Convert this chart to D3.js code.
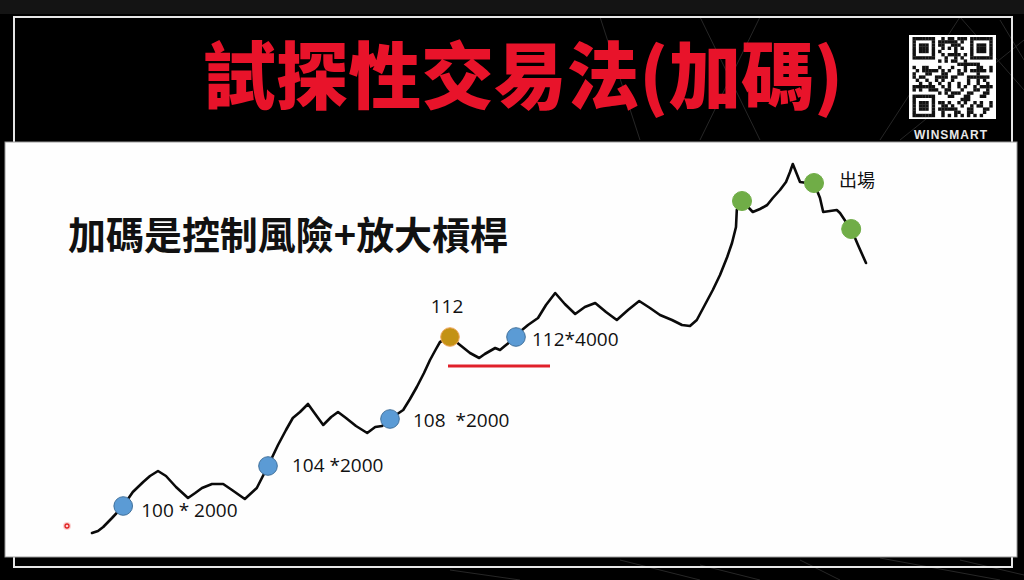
<!DOCTYPE html>
<html><head><meta charset="utf-8">
<script src="https://cdn.jsdelivr.net/npm/d3@7/dist/d3.min.js"></script>
<style>body{margin:0;background:#000;} svg{display:block}</style>
</head><body><svg id="c" width="1024" height="580"></svg>
<script>
// ---- data ----
const titleText = "試探性交易法(加碼)";
const subtitleText = "加碼是控制風險+放大槓桿";
const brandText = "WINSMART";

const day = [1.5,2.25,2.9,4,5.4,6.6,7.9,8.75,9.75,10.75,
  12,13.5,14.4,15.25,16.5,17.9,19,20.6,22.1,23.5,
  24.75,25.75,26.6,27.5,28.5,29.4,30.4,31.4,32.25,33.25,
  34.5,35.9,36.9,37.75,38.75,40.4,41.25,42.1,43,43.75,
  44.5,45,46.25,47.5,48.75,49.9,50.6,51.25,51.9,52.5,
  53.1,54.5,55.25,56,57.25,58.25,59.4,60.6,61.9,63.1,
  64.4,65.75,67.1,68.5,69.9,71.25,72.5,74,75.25,76.25,
  77.1,78.1,79.1,80,80.9,81.5,82,82.1,82.75,83.5,
  84.1,85,85.9,86.6,87.5,88.25,88.75,89.1,89.6,90,
  90.9,91.75,92.5,92.9,93.75,94.6,95,95.75,96.4,97.25,
  98.25];
const price = [6.75,7.25,8.25,10.5,13.5,17,19.5,21,22.25,21,
  18.25,15.5,16.75,18,19,19,17.5,15.25,18,23.5,
  28.75,32.5,35.5,37,39,36.5,33.75,35.75,37,35.5,
  33.5,31.75,33.25,33.5,35.25,37.5,40.25,43.25,46.75,50,
  52.75,54.5,55.75,53.75,51.75,50.5,51.5,52.25,53,52.5,
  53.5,55.75,57.5,58.75,60.5,63.75,66.75,64,61.5,63.25,
  64.25,62,60,62.5,64.75,63,61.25,60,58.75,58.5,
  60,63.75,67.5,71.25,75.75,79.25,83.25,87.5,89.75,88.25,
  87,87.75,88.75,90.5,92.5,94.5,97,99,96.5,94.5,
  94.25,94.25,90.5,87,87.25,87.5,86.75,84.5,82.75,78.75,
  74.25];

const markerDay   = [5.4, 23.5, 38.75, 54.5, 46.25, 82.75, 91.75, 96.4];
const markerPrice = [13.5, 23.5, 35.25, 55.75, 55.75, 89.75, 94.25, 82.75];
const markerKind  = ["add","add","add","add","probe","exit","exit","exit"];

const labelText   = ["100 * 2000", "104 *2000", "108  *2000", "112", "112*4000", "出場"];
const labelMarker = [0, 1, 2, 4, 3, 6];

const supportStart = 46, supportEnd = 58.75, supportPrice = 48.5;

// ---- styles ----
const kindFill   = {add:"#5b9bd5", probe:"#c39215", exit:"#70ad47"};
const kindStroke = {add:"#41719c", probe:"#f0a860", exit:"#70ad47"};
const labelDx = [18, 24, 23, -3, 16, 25];
const labelDy = [11, 6, 8, -24, 9, 4];
const labelAnchor = ["start","start","start","middle","start","start"];

const svg = d3.select("#c");

// background
svg.append("rect").attr("width",1024).attr("height",580).attr("fill","#000");
svg.append("rect").attr("width",1024).attr("height",14).attr("fill","#141414");

// faint network decoration
const net = [[700,17,760,140],[760,17,700,140],[960,17,1024,90],[880,140,960,17],[1024,40,900,140],
  [600,17,640,140],[450,570,520,580],[620,560,700,580],[700,565,760,580],[880,558,1000,580],[960,560,1024,575],
  [800,560,840,580],[1000,20,1024,60]];
svg.append("g").selectAll("line").data(net).join("line")
  .attr("x1",d=>d[0]).attr("y1",d=>d[1]).attr("x2",d=>d[2]).attr("y2",d=>d[3])
  .attr("stroke","#262626").attr("stroke-width",1);

// frame
svg.append("rect").attr("x",14).attr("y",17).attr("width",998).attr("height",550)
  .attr("fill","none").attr("stroke","#e6e6e6").attr("stroke-width",2);

// white panel
svg.append("rect").attr("x",5).attr("y",142).attr("width",1012).attr("height",415)
  .attr("fill","#fefefe").attr("stroke","#9a9a9a").attr("stroke-width",1);

// title
svg.append("text").attr("x",203).attr("y",103)
  .attr("font-family","'Noto Sans CJK TC','Noto Sans CJK SC',sans-serif")
  .attr("font-weight",900).attr("font-size",73).attr("fill","#e8132a")
  .attr("textLength",640).attr("lengthAdjust","spacingAndGlyphs")
  .text(titleText);

// QR code (decorative)
const qr = svg.append("g").attr("transform","translate(909,35)");
qr.append("rect").attr("width",87).attr("height",84).attr("fill","#fff");
const N = 25, m = 3.2, ox = 3.5, oy = 2;
const cells = [];
function finder(r0,c0){ for(let r=0;r<7;r++)for(let c=0;c<7;c++){
  const edge = r===0||r===6||c===0||c===6, core = r>=2&&r<=4&&c>=2&&c<=4;
  if(edge||core) cells.push([r0+r,c0+c]); } }
finder(0,0); finder(0,N-7); finder(N-7,0);
for(let r=0;r<N;r++)for(let c=0;c<N;c++){
  const inF = (r<8&&c<8)||(r<8&&c>=N-8)||(r>=N-8&&c<8);
  if(inF) continue;
  if(((r*31 + c*17 + (r*c)%7) % 3) === 0 || ((r+c*c)%5===1)) cells.push([r,c]);
}
qr.selectAll(".m").data(cells).join("rect").attr("class","m")
  .attr("x",d=>ox+d[1]*m).attr("y",d=>oy+d[0]*m).attr("width",m+0.2).attr("height",m+0.2).attr("fill","#111");
svg.append("text").attr("x",951).attr("y",139).attr("text-anchor","middle")
  .attr("font-family","'Liberation Sans',Arial,sans-serif").attr("font-size",12).attr("font-weight",700)
  .attr("letter-spacing",1).attr("fill","#e8e8e8").text(brandText);

// subtitle
svg.append("text").attr("x",68).attr("y",249)
  .attr("font-family","'Noto Sans CJK TC','Noto Sans CJK SC',sans-serif")
  .attr("font-weight",700).attr("font-size",38).attr("fill","#111")
  .attr("textLength",440).attr("lengthAdjust","spacingAndGlyphs")
  .text(subtitleText);

// scales
const x = d3.scaleLinear().domain([0,100]).range([80,880]);
const y = d3.scaleLinear().domain([0,100]).range([560,160]);

// price path
const pts = day.map((d,i)=>[d, price[i]]);
const line = d3.line().x(d=>x(d[0])).y(d=>y(d[1])).curve(d3.curveLinear);
svg.append("path").attr("d",line(pts)).attr("fill","none")
  .attr("stroke","#0a0a0a").attr("stroke-width",2.6).attr("stroke-linejoin","round").attr("stroke-linecap","round");

// support line
svg.append("line").attr("x1",x(supportStart)).attr("x2",x(supportEnd))
  .attr("y1",y(supportPrice)).attr("y2",y(supportPrice))
  .attr("stroke","#e0202a").attr("stroke-width",3);

// markers
svg.append("g").selectAll("circle").data(markerDay.map((d,i)=>i)).join("circle")
  .attr("cx",i=>x(markerDay[i])).attr("cy",i=>y(markerPrice[i]))
  .attr("r",i=>markerKind[i]==="exit"?9.5:9.3)
  .attr("fill",i=>kindFill[markerKind[i]]).attr("stroke",i=>kindStroke[markerKind[i]]).attr("stroke-width",1);

// labels
svg.append("g").selectAll("text").data(labelText.map((t,i)=>i)).join("text")
  .attr("x",i=>x(markerDay[labelMarker[i]])+labelDx[i])
  .attr("y",i=>y(markerPrice[labelMarker[i]])+labelDy[i])
  .attr("text-anchor",i=>labelAnchor[i])
  .attr("font-family",i=>/[\u4e00-\u9fff]/.test(labelText[i])?"'Noto Sans CJK TC',sans-serif":"'Open Sans','Liberation Sans',sans-serif")
  .attr("font-size",i=>/[\u4e00-\u9fff]/.test(labelText[i])?18:19)
  .attr("fill","#111").style("white-space","pre")
  .text(i=>labelText[i]);

// pointer dot (decorative)
svg.append("circle").attr("cx",67).attr("cy",526).attr("r",4).attr("fill","#fbd3d3");
svg.append("circle").attr("cx",67).attr("cy",526).attr("r",2).attr("fill","none").attr("stroke","#e02020").attr("stroke-width",1.3);
</script></body></html>
